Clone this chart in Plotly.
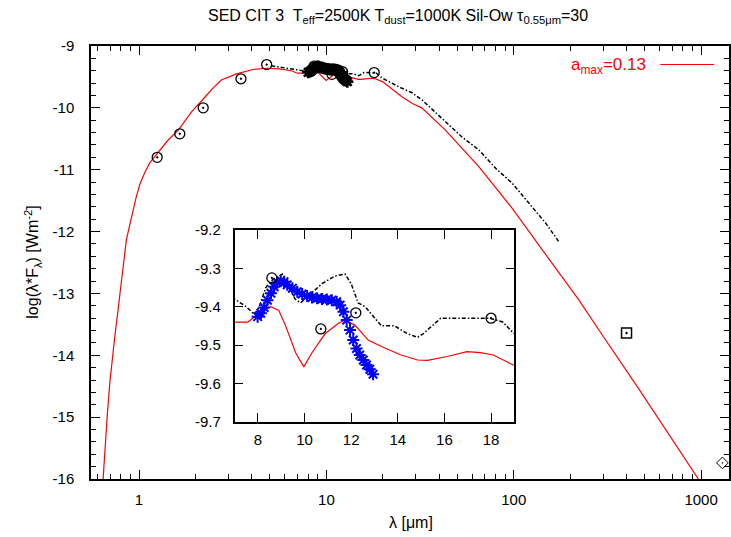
import plotly.graph_objects as go

# ---------------- data ----------------
# model SED, a_max = 0.13 (red line)
model_lam = [0.643, 0.657, 0.676, 0.698, 0.721, 0.742, 0.773, 0.805, 0.829, 0.856,
             0.892, 0.929, 0.968, 1.009, 1.072, 1.14, 1.26, 1.43, 1.62, 1.91,
             2.29, 2.48, 2.75, 3.31, 4.06, 4.77, 5.63, 6.5, 7.0, 7.57,
             7.99, 8.56, 8.9, 9.19, 9.62, 9.97, 10.32, 10.89, 11.46, 11.74,
             12.16, 12.73, 13.3, 14.14, 14.85, 15.27, 16.12, 16.97, 17.54, 18.1,
             18.88, 20.0, 25.3, 28.8, 32.3, 43.2, 65.1, 98.0, 153.0, 222.0,
             292.0, 462.0, 967.0, 1050.0]
model_val = [-16.0, -15.47, -14.99, -14.45, -14.02, -13.70, -13.26, -12.78, -12.40, -12.13,
             -11.89, -11.65, -11.43, -11.24, -11.05, -10.89, -10.73, -10.52, -10.36, -10.06,
             -9.80, -9.68, -9.55, -9.45, -9.38, -9.36, -9.37, -9.40, -9.44, -9.44,
             -9.42, -9.40, -9.41, -9.45, -9.52, -9.557, -9.52, -9.47, -9.443, -9.435,
             -9.448, -9.487, -9.504, -9.526, -9.539, -9.54, -9.53, -9.517, -9.52, -9.526,
             -9.55, -9.58, -9.82, -9.93, -10.0, -10.36, -10.95, -11.62, -12.43, -13.10,
             -13.64, -14.53, -16.0, -16.17]

# observed spectrum (black dash-dot line)
obs_lam = [5.08, 6.1, 7.0, 7.5, 7.85, 8.06, 8.34, 8.63, 8.9, 9.05,
           9.33, 9.6, 9.83, 10.18, 10.75, 11.31, 11.74, 12.0, 12.3, 12.6,
           13.0, 13.3, 13.86, 14.4, 14.85, 15.1, 15.84, 16.4, 16.83, 17.4,
           17.96, 18.5, 18.9, 19.9, 24.4, 28.8, 32.6, 43.2, 52.9, 65.1,
           80.3, 98.2, 120.5, 147.8, 173.8]
obs_val = [-9.32, -9.36, -9.38, -9.40, -9.42, -9.40, -9.35, -9.33, -9.32, -9.315,
           -9.35, -9.38, -9.39, -9.37, -9.34, -9.32, -9.315, -9.34, -9.39, -9.40,
           -9.43, -9.45, -9.45, -9.47, -9.48, -9.47, -9.43, -9.43, -9.43, -9.43,
           -9.43, -9.44, -9.465, -9.52, -9.66, -9.76, -9.88, -10.22, -10.47, -10.68,
           -10.98, -11.22, -11.54, -11.86, -12.16]

# LRS spectrum (asterisks)
lrs_lam = [7.99, 8.13, 8.27, 8.41, 8.56, 8.70, 8.84, 8.98, 9.12, 9.26,
           9.48, 9.69, 9.90, 10.11, 10.32, 10.54, 10.75, 10.96, 11.17, 11.38,
           11.53, 11.67, 11.81, 11.95, 12.09, 12.23, 12.37, 12.52, 12.66, 12.80,
           12.94]
lrs_val = [-9.426, -9.417, -9.402, -9.383, -9.365, -9.348, -9.337, -9.332, -9.335, -9.343,
           -9.352, -9.361, -9.367, -9.372, -9.376, -9.378, -9.380, -9.381, -9.383, -9.387,
           -9.396, -9.413, -9.435, -9.461, -9.487, -9.509, -9.526, -9.539, -9.552, -9.563,
           -9.576]

# photometry
phot_lam = [1.25, 1.65, 2.2, 3.5, 4.8, 8.6, 10.7, 12.2, 18.0]
phot_val = [-10.80, -10.42, -10.0, -9.53, -9.30, -9.325, -9.458, -9.416, -9.43]
sub_lam = [400.0]
sub_val = [-13.64]
mm_lam = [1300.0]
mm_val = [-15.74]

# tick labels
main_x_ticks = [1, 10, 100, 1000]
main_x_minor = [0.6, 0.7, 0.8, 0.9, 2, 3, 4, 5, 6, 7, 8, 9, 20, 30, 40, 50, 60, 70, 80, 90,
                200, 300, 400, 500, 600, 700, 800, 900]
main_y_ticks = [-9, -10, -11, -12, -13, -14, -15, -16]
inset_x_ticks = [8, 10, 12, 14, 16, 18]
inset_y_ticks = [-9.2, -9.3, -9.4, -9.5, -9.6, -9.7]

title_text = ("SED CIT 3  T<sub>eff</sub>=2500K T<sub>dust</sub>=1000K "
              "Sil-Ow τ<sub>0.55μm</sub>=30")
legend_text = "a<sub>max</sub>=0.13"

FONT = "Liberation Sans, Arial, sans-serif"
RED = "#ff0000"

fig = go.Figure()

# ---------------- main panel ----------------
fig.add_trace(go.Scatter(x=model_lam, y=model_val, mode="lines",
                         line=dict(color=RED, width=1.2), xaxis="x", yaxis="y",
                         showlegend=False))
fig.add_trace(go.Scatter(x=obs_lam, y=obs_val, mode="lines",
                         line=dict(color="black", width=1.5, dash="4px,2px,1.5px,2px"),
                         xaxis="x", yaxis="y", showlegend=False))
fig.add_trace(go.Scatter(x=lrs_lam, y=lrs_val, mode="markers",
                         marker=dict(symbol="asterisk-open", size=10, color="black",
                                     line=dict(color="black", width=2.5)),
                         xaxis="x", yaxis="y", showlegend=False))
fig.add_trace(go.Scatter(x=phot_lam, y=phot_val, mode="markers",
                         marker=dict(symbol="circle-open-dot", size=10, color="black",
                                     line=dict(color="black", width=1.3)),
                         xaxis="x", yaxis="y", showlegend=False))
fig.add_trace(go.Scatter(x=sub_lam, y=sub_val, mode="markers",
                         marker=dict(symbol="square-open-dot", size=10, color="black",
                                     line=dict(color="black", width=1.5)),
                         xaxis="x", yaxis="y", showlegend=False))
fig.add_trace(go.Scatter(x=mm_lam, y=mm_val, mode="markers",
                         marker=dict(symbol="diamond-open-dot", size=9, color="black",
                                     line=dict(color="black", width=1)),
                         xaxis="x", yaxis="y", showlegend=False))

# ---------------- inset ----------------
fig.add_trace(go.Scatter(x=model_lam, y=model_val, mode="lines",
                         line=dict(color=RED, width=1.2), xaxis="x2", yaxis="y2",
                         showlegend=False))
fig.add_trace(go.Scatter(x=obs_lam, y=obs_val, mode="lines",
                         line=dict(color="black", width=1.5, dash="4px,2px,1.5px,2px"),
                         xaxis="x2", yaxis="y2", showlegend=False))
fig.add_trace(go.Scatter(x=lrs_lam, y=lrs_val, mode="markers",
                         marker=dict(symbol="asterisk-open", size=10, color="blue",
                                     line=dict(color="blue", width=2)),
                         xaxis="x2", yaxis="y2", showlegend=False))
fig.add_trace(go.Scatter(x=phot_lam, y=phot_val, mode="markers",
                         marker=dict(symbol="circle-open-dot", size=10, color="black",
                                     line=dict(color="black", width=1.3)),
                         xaxis="x2", yaxis="y2", showlegend=False))

tickfont = dict(family=FONT, size=15, color="black")

fig.update_layout(
    width=731, height=537,
    margin=dict(l=91, r=0, t=46, b=58),
    paper_bgcolor="white", plot_bgcolor="white",
    showlegend=False,
    font=dict(family=FONT, size=15, color="black"),
    xaxis=dict(type="log", range=[-0.2564, 3.149], domain=[0, 1], anchor="y",
               tickmode="array", tickvals=main_x_ticks,
               ticktext=[str(v) for v in main_x_ticks],
               ticks="inside", ticklen=9, tickwidth=1, tickcolor="black",
               minor=dict(tickmode="array", tickvals=main_x_minor, ticks="inside",
                          ticklen=5, tickwidth=1, tickcolor="black"),
               showline=True, linecolor="black", linewidth=1.5, mirror="allticks",
               showgrid=False, zeroline=False, tickfont=tickfont,
               ticklabelstandoff=6),
    yaxis=dict(range=[-16, -9], domain=[0, 1], anchor="x",
               tickmode="array", tickvals=main_y_ticks,
               ticktext=[str(v) for v in main_y_ticks],
               ticks="inside", ticklen=9, tickwidth=1, tickcolor="black",
               minor=dict(dtick=0.2, tick0=-16, ticks="inside", ticklen=5,
                          tickwidth=1, tickcolor="black"),
               showline=True, linecolor="black", linewidth=1.5, mirror="allticks",
               showgrid=False, zeroline=False, tickfont=tickfont,
               ticklabelstandoff=12),
    xaxis2=dict(range=[7, 19], domain=[0.225, 0.6636], anchor="y2",
                tickmode="array", tickvals=inset_x_ticks,
                ticktext=[str(v) for v in inset_x_ticks],
                ticks="inside", ticklen=9, tickwidth=1, tickcolor="black",
                showline=True, linecolor="black", linewidth=1.5, mirror="allticks",
                showgrid=False, zeroline=False, tickfont=tickfont,
                ticklabelstandoff=4),
    yaxis2=dict(range=[-9.7, -9.2], domain=[0.1323, 0.575], anchor="x2",
                tickmode="array", tickvals=inset_y_ticks,
                ticktext=[f"{v:.1f}" for v in inset_y_ticks],
                ticks="inside", ticklen=9, tickwidth=1, tickcolor="black",
                showline=True, linecolor="black", linewidth=1.5, mirror="allticks",
                showgrid=False, zeroline=False, tickfont=tickfont,
                ticklabelstandoff=9),
)

# title
fig.add_annotation(text=title_text, xref="paper", yref="paper",
                   x=(399 - 91) / 640, y=(479 - 17) / 433, showarrow=False,
                   xanchor="center", yanchor="middle",
                   font=dict(family=FONT, size=16, color="black"))
# axis titles
fig.add_annotation(text="λ [μm]", xref="paper", yref="paper",
                   x=(412 - 91) / 640, y=(479 - 522) / 433, showarrow=False,
                   xanchor="center", yanchor="middle",
                   font=dict(family=FONT, size=16, color="black"))
fig.add_annotation(text="log(λ*F<sub>λ</sub>) [Wm<sup>-2</sup>]", xref="paper", yref="paper",
                   x=(32 - 91) / 640, y=0.5, showarrow=False, textangle=-90,
                   xanchor="center", yanchor="middle",
                   font=dict(family=FONT, size=16, color="black"))
# legend (gnuplot style: text then line sample)
fig.add_annotation(text=legend_text, xref="paper", yref="paper",
                   x=(650 - 91) / 640, y=(479 - 66) / 433, showarrow=False,
                   xanchor="right", yanchor="middle",
                   font=dict(family=FONT, size=17, color=RED))
fig.add_shape(type="line", xref="paper", yref="paper",
              x0=(662 - 91) / 640, x1=(716 - 91) / 640,
              y0=(479 - 64.5) / 433, y1=(479 - 64.5) / 433,
              line=dict(color=RED, width=1.2))

fig.write_html("out.html")
